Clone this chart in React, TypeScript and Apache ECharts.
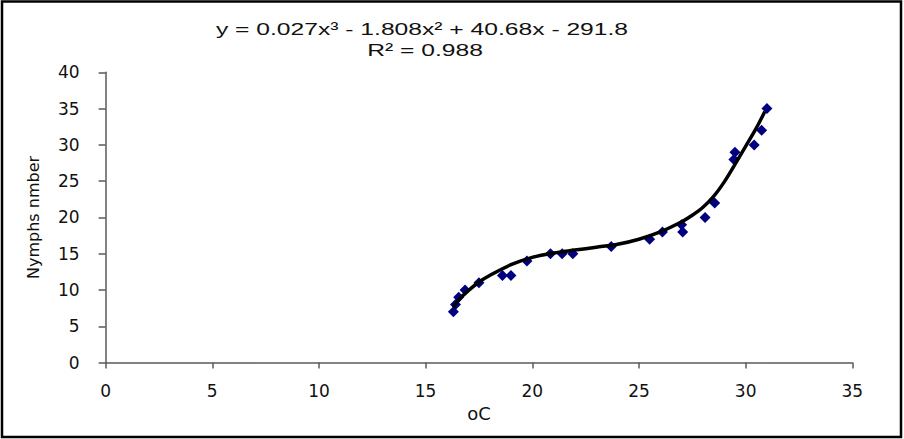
import React, { useEffect, useRef } from "react";
import * as echarts from "echarts";

// Observed points: temperature (oC) and nymph counts
const tempC = [16.3, 16.4, 16.55, 16.85, 17.5, 18.6, 19.0, 19.75, 20.85, 21.4, 21.9, 23.7, 25.5, 26.1, 27.0, 27.05, 28.1, 28.55, 29.5, 29.45, 30.4, 30.75, 31.0];
const nymphs = [7, 8, 9, 10, 11, 12, 12, 14, 15, 15, 15, 16, 17, 18, 19, 18, 20, 22, 29, 28, 30, 32, 35];

// Trend line
const trendX = [16.3, 16.6, 17, 17.5, 18, 19, 20, 21, 22, 23, 24, 25, 26, 27, 27.5, 28, 28.5, 29, 29.5, 30, 30.5, 30.9];
const trendY = [7.6, 8.8, 9.9, 11.1, 12.0, 13.5, 14.5, 15.1, 15.5, 15.9, 16.3, 17.0, 18.0, 19.4, 20.3, 21.4, 22.9, 24.9, 27.3, 29.8, 32.3, 34.6];

const xTicks = { min: 0, max: 35, interval: 5 };
const yTicks = { min: 0, max: 40, interval: 5 };

const equationText = "y = 0.027x³ - 1.808x² + 40.68x - 291.8";
const r2Text = "R² = 0.988";
const xName = "oC";
const yName = "Nymphs nmber";

export default function App() {
  const ref = useRef<HTMLDivElement>(null);
  useEffect(() => {
    document.body.style.margin = "0";
    if (!ref.current) return;
    const chart = echarts.init(ref.current, null, { renderer: "svg" });
    const axisColor = "#5a5a5a";
    const labelFont = "DejaVu Sans";
    chart.setOption({
      animation: false,
      backgroundColor: "#ffffff",
      grid: { left: 105.6, right: 51.7, top: 72.3, bottom: 76.4, containLabel: false },
      xAxis: {
        type: "value",
        min: xTicks.min,
        max: xTicks.max,
        interval: xTicks.interval,
        name: xName,
        nameLocation: "middle",
        nameGap: 41,
        nameTextStyle: { fontFamily: labelFont, fontSize: 18, color: "#111", verticalAlign: "top" },
        axisLine: { show: true, lineStyle: { color: axisColor, width: 1.5 } },
        axisTick: { show: true, inside: false, length: 6, lineStyle: { color: axisColor, width: 1.5 } },
        axisLabel: { margin: 20, fontFamily: labelFont, fontSize: 17, color: "#111" },
        splitLine: { show: false },
      },
      yAxis: {
        type: "value",
        min: yTicks.min,
        max: yTicks.max,
        interval: yTicks.interval,
        name: yName,
        nameLocation: "middle",
        nameRotate: 90,
        nameGap: 64,
        nameTextStyle: { fontFamily: labelFont, fontSize: 16, color: "#111" },
        axisLine: { show: true, lineStyle: { color: axisColor, width: 1.5 } },
        axisTick: { show: true, inside: false, length: 7, lineStyle: { color: axisColor, width: 1.5 } },
        axisLabel: { margin: 26, fontFamily: labelFont, fontSize: 17, color: "#111" },
        splitLine: { show: false },
      },
      series: [
        {
          type: "scatter",
          symbol: "diamond",
          symbolSize: 11,
          itemStyle: { color: "#000080", opacity: 1 },
          data: tempC.map((x, i) => [x, nymphs[i]]),
          z: 2,
        },
        {
          type: "line",
          smooth: 0.3,
          showSymbol: false,
          symbol: "none",
          lineStyle: { color: "#000000", width: 3.5 },
          data: trendX.map((x, i) => [x, trendY[i]]),
          z: 3,
        },
      ],
      graphic: [
        {
          type: "rect",
          shape: { x: 2, y: 1.5, width: 899, height: 435.5 },
          style: { fill: "none", stroke: "#000", lineWidth: 2.5 },
          silent: true,
        },
        {
          type: "text",
          x: 422,
          y: 29,
          scaleX: 1.45,
          style: {
            text: equationText,
            font: "17px 'Liberation Sans', Arial, sans-serif",
            fill: "#111",
            align: "center",
            verticalAlign: "middle",
            textAlign: "center",
            textVerticalAlign: "middle",
          },
        },
        {
          type: "text",
          x: 425,
          y: 50,
          scaleX: 1.45,
          style: {
            text: r2Text,
            font: "17px 'Liberation Sans', Arial, sans-serif",
            fill: "#111",
            align: "center",
            verticalAlign: "middle",
            textAlign: "center",
            textVerticalAlign: "middle",
          },
        },
      ],
    });
    return () => chart.dispose();
  }, []);
  return (
    <div
      ref={ref}
      style={{ position: "fixed", left: 0, top: 0, width: 904, height: 439 }}
    />
  );
}
